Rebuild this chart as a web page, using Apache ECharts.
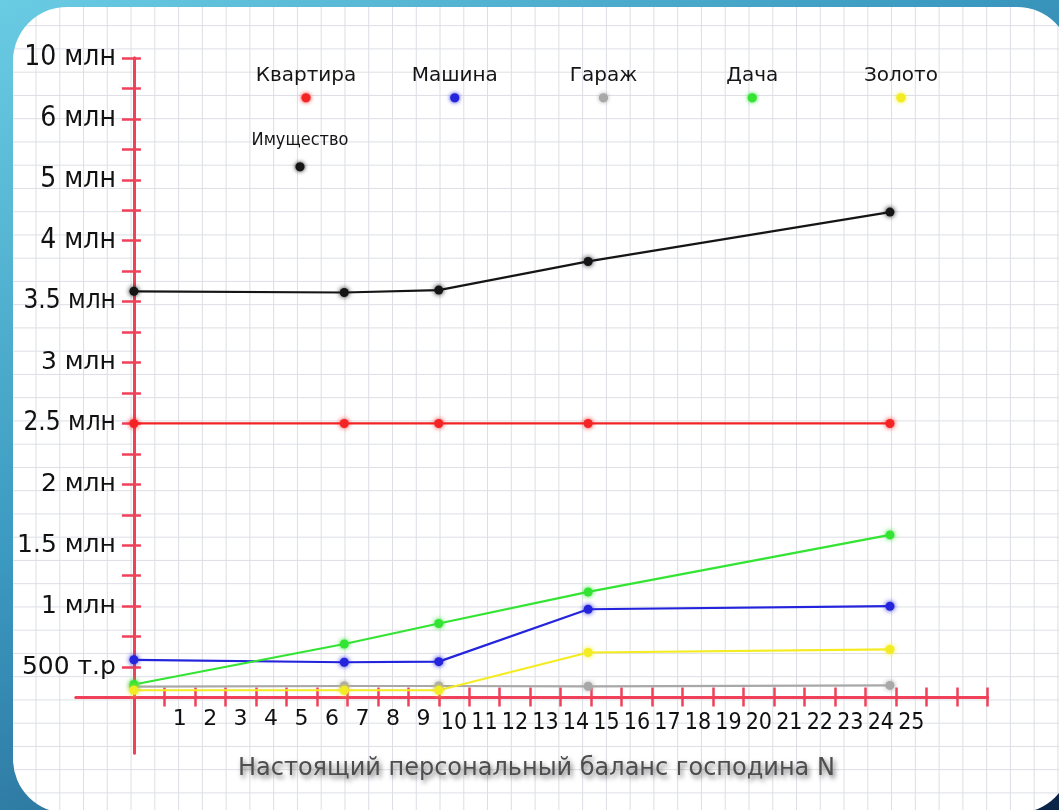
<!DOCTYPE html>
<html>
<head>
<meta charset="utf-8">
<script src="https://cdn.jsdelivr.net/npm/echarts@6/dist/echarts.min.js"></script>
<style>
html, body { margin: 0; padding: 0; width: 1059px; height: 810px; overflow: hidden; }
#frame { position: absolute; left: 0; top: 0; width: 1059px; height: 810px;
  background: linear-gradient(150deg, #6acce3 0%, #3b98bf 40%, #25658f 72%, #0a2347 100%); }
#paper { position: absolute; left: 13px; top: 7px; width: 1058px; height: 806px; border-radius: 54px;
  background-color: #ffffff;
  background-image: linear-gradient(to right, #dcdee4 1.2px, transparent 1.2px),
                    linear-gradient(to bottom, #dcdee4 1.2px, transparent 1.2px);
  background-size: 23.78px 23.25px; background-position: 22.5px 18.2px; }
#chart { position: absolute; left: 0; top: 0; width: 1059px; height: 810px; }
</style>
</head>
<body>
<div id="frame"></div>
<div id="paper"></div>
<div id="chart"></div>
<script>
// ---- data ----
const xValues = [0, 6.9, 10, 14.9, 24.8];
const xTickLabels = ['1','2','3','4','5','6','7','8','9','10','11','12','13','14','15','16','17','18','19','20','21','22','23','24','25'];
const yTickValues = [0, 500000, 1000000, 1500000, 2000000, 2500000, 3000000, 3500000, 4000000, 5000000, 6000000, 10000000];
const yTickLabels = ['', '500 т.р', '1 млн', '1.5 млн', '2 млн', '2.5 млн', '3 млн', '3.5 млн', '4 млн', '5 млн', '6 млн', '10 млн'];
const seriesNames = ['Квартира', 'Машина', 'Гараж', 'Дача', 'Золото', 'Имущество'];
const kvartira     = [2500000, 2500000, 2500000, 2500000, 2500000];
const mashina      = [560000, 540000, 545000, 975000, 1000000];
const garazh       = [180000, 190000, 190000, 185000, 200000];
const dacha        = [215000, 690000, 858000, 1117000, 1585000];
const zoloto       = [120000, 120000, 120000, 620000, 645000];
const imushchestvo = [3585000, 3575000, 3595000, 3830000, 4470000];

// ---- styling / axis helpers ----
const seriesValues = [kvartira, mashina, garazh, dacha, zoloto, imushchestvo];
const colors = ['#f42424', '#2424dc', '#a8a8a8', '#33e433', '#f4ec22', '#151515'];
const axisRed = '#f0405a';

// The hand-drawn value axis is not linear: labelled ticks are evenly spaced,
// and the origin sits half a step below the first label.
const tickPos = yTickValues.map((v, i) => (i === 0 ? 0 : i - 0.5));
function toAxis(v) {
  for (let i = 1; i < yTickValues.length; i++) {
    if (v <= yTickValues[i]) {
      const t = (v - yTickValues[i - 1]) / (yTickValues[i] - yTickValues[i - 1]);
      return tickPos[i - 1] + t * (tickPos[i] - tickPos[i - 1]);
    }
  }
  return tickPos[tickPos.length - 1];
}
const yLabelPos = tickPos.slice(1);
const yTickMarks = [];
for (let i = 1; i < tickPos.length; i++) {
  yTickMarks.push(tickPos[i]);
  if (i + 1 < tickPos.length) yTickMarks.push((tickPos[i] + tickPos[i + 1]) / 2);
}
const xLabelPos = xTickLabels.map((_, i) => i + 1.5);
const xTickMarks = Array.from({ length: xTickLabels.length + 3 }, (_, i) => i + 1);

const bigNarrow = new Set(['10 млн', '6 млн', '5 млн', '4 млн']);
const midNarrow = new Set(['3.5 млн', '2.5 млн']);
const NARROW = '"Liberation Sans Narrow", "DejaVu Sans Condensed", "Arial Narrow", sans-serif';
const WIDE = '"DejaVu Sans", Verdana, sans-serif';

function yLabelIndex(u) {
  let best = 0, d = Infinity;
  tickPos.forEach((p, i) => { if (Math.abs(p - u) < d) { d = Math.abs(p - u); best = i; } });
  return best;
}

const dotRich = {};
colors.forEach((c, i) => {
  dotRich['d' + i] = { fontFamily: WIDE, fontSize: 12, color: c, width: 110, align: 'center',
    lineHeight: 22, textShadowColor: c, textShadowBlur: 4 };
});
const dotRich2 = {};
colors.forEach((c, i) => {
  dotRich2['d' + i] = { fontFamily: WIDE, fontSize: 12, color: c, width: 110, align: 'center',
    lineHeight: 28, textShadowColor: c, textShadowBlur: 4 };
});

const series = seriesNames.map((name, k) => ({
  name: name,
  type: 'line',
  xAxisIndex: 0,
  yAxisIndex: 0,
  data: xValues.map((x, i) => [x, toAxis(seriesValues[k][i])]),
  symbol: 'circle',
  symbolSize: 9,
  showSymbol: true,
  lineStyle: { color: colors[k], width: 2.2 },
  itemStyle: { color: colors[k], shadowBlur: 5, shadowColor: colors[k] },
  emphasis: { disabled: true },
  z: 3
}));

// grid & axis geometry
const G = { left: 76, right: 71.5, top: 58, bottom: 57 };
const xMin = -1.9, xMax = 28, yMin = -0.91, yMax = 10.5;
const gridW = 1059 - G.left - G.right, gridH = 810 - G.top - G.bottom;
const yAxisShift = -((0 - xMin) / (xMax - xMin)) * gridW;  // move y axis to x = 0
const xAxisShift = -((0 - yMin) / (yMax - yMin)) * gridH;  // move x axis to y = 0

const chart = echarts.init(document.getElementById('chart'), null, { renderer: 'canvas' });
chart.setOption({
  backgroundColor: 'transparent',
  animation: false,
  title: {
    text: 'Настоящий персональный баланс господина N',
    left: 238,
    top: 757,
    padding: 0,
    textStyle: {
      fontFamily: WIDE, fontSize: 24, fontWeight: 'normal', color: '#4e4e4e',
      textShadowColor: 'rgba(0,0,0,0.55)', textShadowBlur: 5, textShadowOffsetX: 2, textShadowOffsetY: 3
    }
  },
  legend: [{
    data: seriesNames.slice(0, 5),
    left: 245, top: 66, orient: 'horizontal',
    itemGap: 32.75, itemWidth: 0, itemHeight: 0, padding: 0,
    selectedMode: false,
    formatter: name => '{n|' + name + '}\n{d' + seriesNames.indexOf(name) + '|●}',
    textStyle: {
      rich: Object.assign({
        n: { fontFamily: WIDE, fontSize: 20, color: '#151515', width: 110, align: 'center', lineHeight: 22 }
      }, dotRich)
    }
  }, {
    data: seriesNames.slice(5),
    left: 239, top: 131, orient: 'horizontal',
    itemWidth: 0, itemHeight: 0, padding: 0,
    selectedMode: false,
    formatter: name => '{n|' + name + '}\n{d' + seriesNames.indexOf(name) + '|●}',
    textStyle: {
      rich: Object.assign({
        n: { fontFamily: NARROW, fontSize: 18, color: '#151515', width: 110, align: 'center', lineHeight: 26 }
      }, dotRich2)
    }
  }],
  grid: { left: G.left, right: G.right, top: G.top, bottom: G.bottom, containLabel: false, outerBoundsMode: 'none' },
  xAxis: [{
    type: 'value', position: 'bottom', min: xMin, max: xMax, offset: xAxisShift,
    axisLine: { show: true, onZero: false, lineStyle: { color: axisRed, width: 3 } },
    axisTick: { show: true, inside: true, length: 10, customValues: xTickMarks, lineStyle: { color: axisRed, width: 2.5 } },
    axisLabel: {
      show: true, customValues: xLabelPos, margin: 11, color: '#111',
      formatter: v => {
        const t = xTickLabels[Math.round(v - 1.5)];
        return t.length < 2 ? '{w|' + t + '}' : '{n|' + t + '}';
      },
      rich: {
        w: { fontFamily: WIDE, fontSize: 22, color: '#111' },
        n: { fontFamily: NARROW, fontSize: 23, color: '#111', padding: [3, 0, 0, 0] }
      }
    },
    splitLine: { show: false }
  }, {
    type: 'value', position: 'bottom', min: xMin, max: xMax, offset: xAxisShift,
    axisLine: { show: true, onZero: false, lineStyle: { color: axisRed, width: 3 } },
    axisTick: { show: true, inside: false, length: 9, customValues: xTickMarks, lineStyle: { color: axisRed, width: 2.5 } },
    axisLabel: { show: false },
    splitLine: { show: false }
  }],
  yAxis: [{
    type: 'value', position: 'left', min: yMin, max: yMax, offset: yAxisShift,
    axisLine: { show: true, onZero: false, lineStyle: { color: axisRed, width: 3 } },
    axisTick: { show: true, inside: false, length: 12, customValues: yTickMarks, lineStyle: { color: axisRed, width: 2.5 } },
    axisLabel: {
      show: true, customValues: yLabelPos, margin: 18, color: '#111',
      formatter: v => {
        const t = yTickLabels[yLabelIndex(v)];
        const s = bigNarrow.has(t) ? 'b' : (midNarrow.has(t) ? 'm' : 'w');
        return '{' + s + '|' + t + '}';
      },
      rich: {
        b: { fontFamily: NARROW, fontSize: 28, color: '#111' },
        m: { fontFamily: NARROW, fontSize: 26, color: '#111' },
        w: { fontFamily: WIDE, fontSize: 25, color: '#111' }
      }
    },
    splitLine: { show: false }
  }, {
    type: 'value', position: 'left', min: yMin, max: yMax, offset: yAxisShift,
    axisLine: { show: true, onZero: false, lineStyle: { color: axisRed, width: 3 } },
    axisTick: { show: true, inside: true, length: 7, customValues: yTickMarks, lineStyle: { color: axisRed, width: 2.5 } },
    axisLabel: { show: false },
    splitLine: { show: false }
  }],
  series: series
});
</script>
</body>
</html>
